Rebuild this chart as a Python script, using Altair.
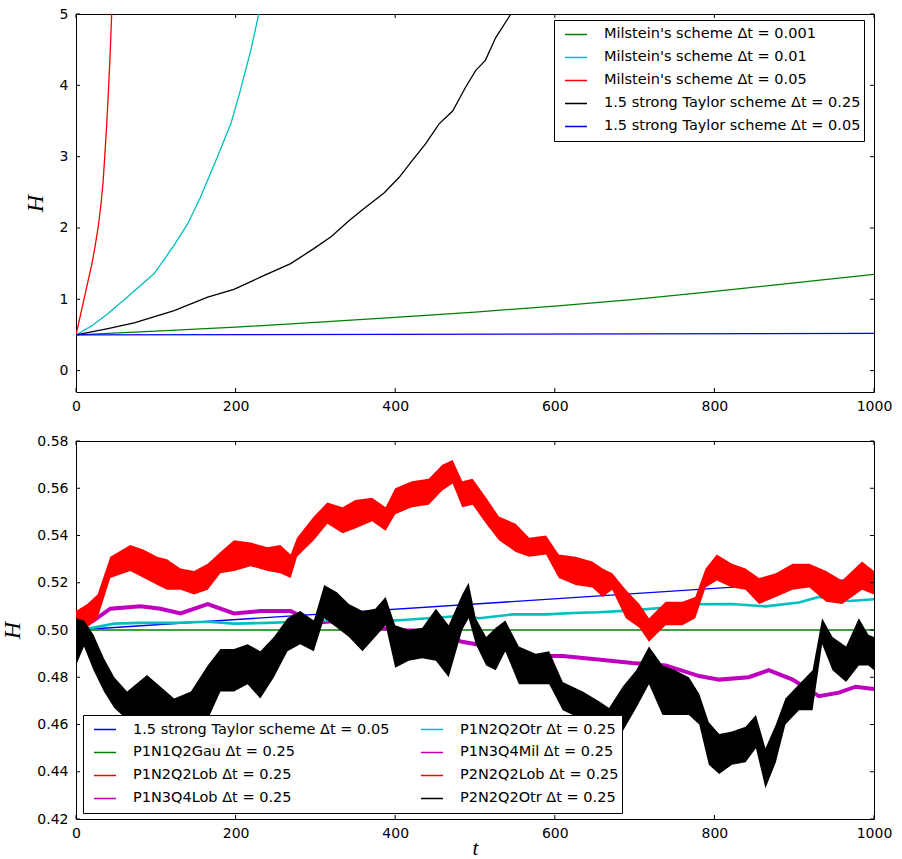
import altair as alt
import pandas as pd

# ---------------- shared axis values ----------------
x_ticks = [0, 200, 400, 600, 800, 1000]
top_y_ticks = [0, 1, 2, 3, 4, 5]
bot_y_ticks = [0.42, 0.44, 0.46, 0.48, 0.50, 0.52, 0.54, 0.56, 0.58]

# ---------------- top panel data ----------------
top_labels = [
    "Milstein's scheme Δt = 0.001",
    "Milstein's scheme Δt = 0.01",
    "Milstein's scheme Δt = 0.05",
    "1.5 strong Taylor scheme Δt = 0.25",
    "1.5 strong Taylor scheme Δt = 0.05",
]
top_colors = ["#008000", "#00bfbf", "#ff0000", "#000000", "#0000ff"]

t_mil_0001 = [0, 100, 200, 300, 400, 500, 600, 700, 800, 900, 1000]
h_mil_0001 = [0.5, 0.553, 0.61, 0.675, 0.745, 0.82, 0.905, 1.0, 1.11, 1.23, 1.35]

t_mil_001 = [0, 20, 39, 64, 98, 123, 140, 156, 177, 194, 206, 219, 229, 236]
h_mil_001 = [0.5, 0.63, 0.79, 1.03, 1.36, 1.76, 2.06, 2.43, 2.99, 3.46, 3.93, 4.49, 5.0, 5.4]

t_mil_005 = [0, 3, 6, 10, 15, 20, 24, 27.6, 31, 34, 36, 38.5, 41, 43, 44.7, 47]
h_mil_005 = [0.5, 0.65, 0.8, 1.0, 1.25, 1.5, 1.75, 2.0, 2.3, 2.65, 3.0, 3.45, 4.0, 4.5, 5.0, 5.6]

t_tay_025 = [0, 40, 73, 123, 165, 198, 231, 269, 298, 320, 342, 363, 386, 405, 421,
             438, 455, 472, 488, 501, 513, 526, 545, 555]
h_tay_025 = [0.5, 0.59, 0.67, 0.84, 1.03, 1.14, 1.31, 1.50, 1.71, 1.88, 2.10, 2.29, 2.49,
             2.71, 2.94, 3.18, 3.46, 3.64, 3.97, 4.21, 4.35, 4.67, 5.0, 5.2]

t_tay_005 = [0, 1000]
h_tay_005 = [0.500, 0.522]

# ---------------- bottom panel data ----------------
bot_labels = {
    "tay": "1.5 strong Taylor scheme Δt = 0.05",
    "gau": "P1N1Q2Gau Δt = 0.25",
    "lob1": "P1N2Q2Lob Δt = 0.25",
    "lob3": "P1N3Q4Lob Δt = 0.25",
    "otr1": "P1N2Q2Otr Δt = 0.25",
    "mil3": "P1N3Q4Mil Δt = 0.25",
    "lob2": "P2N2Q2Lob Δt = 0.25",
    "otr2": "P2N2Q2Otr Δt = 0.25",
}
bot_legend_keys = ["tay", "gau", "lob1", "lob3", "otr1", "mil3", "lob2", "otr2"]
bot_legend_colors = ["#0000ff", "#008000", "#ff0000", "#bf00bf", "#00bfbf", "#bf00bf", "#ff0000", "#000000"]

t_gau = [0, 1000]
h_gau = [0.500, 0.500]

t_tay_b = [0, 1000]
h_tay_b = [0.500, 0.522]

t_otr1 = [0, 22, 48, 81, 123, 165, 198, 240, 269, 317, 400, 442, 484, 505, 547, 589, 630,
          655, 697, 739, 781, 822, 864, 906, 931, 969, 1000]
h_otr1 = [0.500, 0.501, 0.5027, 0.503, 0.503, 0.5035, 0.5027, 0.503, 0.5034, 0.504, 0.504,
          0.505, 0.506, 0.505, 0.5066, 0.5066, 0.5073, 0.5075, 0.5083, 0.5095, 0.5109, 0.511,
          0.510, 0.5116, 0.514, 0.5123, 0.513]

t_mil3 = [0, 22, 43, 81, 106, 131, 165, 198, 231, 269, 298, 332, 359, 400, 442, 484, 526,
          568, 610, 651, 697, 739, 781, 806, 843, 868, 898, 931, 956, 977, 1000]
h_mil3 = [0.500, 0.504, 0.509, 0.510, 0.509, 0.507, 0.511, 0.507, 0.508, 0.508, 0.503, 0.504,
          0.502, 0.500, 0.4996, 0.495, 0.4925, 0.489, 0.489, 0.4876, 0.486, 0.485, 0.4805,
          0.479, 0.480, 0.483, 0.479, 0.472, 0.4735, 0.476, 0.475]

# red (Lobatto) oscillating band: upper / lower envelope
t_lob = [0, 14, 27, 43, 68, 85, 102, 114, 131, 148, 165, 181, 198, 219, 240, 256, 269, 277,
         298, 315, 334, 350, 371, 388, 400, 421, 442, 459, 472, 484, 497, 514, 530, 551, 568,
         589, 605, 626, 647, 660, 672, 689, 706, 718, 739, 760, 776, 789, 803, 822, 839, 856,
         877, 898, 919, 940, 960, 985, 1000]
lob_hi = [0.508, 0.511, 0.515, 0.531, 0.536, 0.534, 0.531, 0.530, 0.526, 0.525, 0.528, 0.533,
          0.538, 0.537, 0.535, 0.536, 0.532, 0.539, 0.548, 0.554, 0.552, 0.555, 0.556, 0.552,
          0.560, 0.563, 0.564, 0.570, 0.572, 0.563, 0.564, 0.556, 0.548, 0.545, 0.539, 0.540,
          0.532, 0.531, 0.529, 0.526, 0.524, 0.517, 0.511, 0.505, 0.512, 0.512, 0.514, 0.526,
          0.532, 0.528, 0.526, 0.522, 0.524, 0.528, 0.528, 0.525, 0.521, 0.529, 0.525]
lob_lo = [0.501, 0.501, 0.505, 0.522, 0.525, 0.522, 0.519, 0.517, 0.517, 0.515, 0.517, 0.524,
          0.525, 0.527, 0.525, 0.524, 0.522, 0.531, 0.538, 0.545, 0.541, 0.543, 0.546, 0.542,
          0.549, 0.552, 0.553, 0.559, 0.562, 0.552, 0.553, 0.545, 0.538, 0.533, 0.531, 0.532,
          0.522, 0.519, 0.518, 0.514, 0.517, 0.505, 0.501, 0.495, 0.502, 0.502, 0.505, 0.518,
          0.521, 0.518, 0.517, 0.511, 0.514, 0.517, 0.518, 0.512, 0.511, 0.517, 0.515]

# black (P2N2Q2Otr) oscillating band: upper / lower envelope
t_otr2 = [0, 10, 22, 35, 48, 64, 89, 123, 144, 165, 181, 198, 215, 231, 248, 265, 281, 298,
          311, 327, 342, 359, 375, 388, 400, 417, 434, 451, 467, 484, 492, 501, 514, 526, 538,
          555, 576, 593, 610, 635, 655, 668, 685, 702, 718, 735, 751, 768, 781, 793, 806, 822,
          839, 852, 864, 877, 889, 906, 923, 935, 948, 965, 981, 993, 1000]
otr2_hi = [0.505, 0.504, 0.498, 0.488, 0.480, 0.474, 0.481, 0.471, 0.474, 0.485, 0.492, 0.492,
           0.494, 0.491, 0.497, 0.505, 0.508, 0.504, 0.519, 0.516, 0.511, 0.508, 0.509, 0.514,
           0.502, 0.500, 0.501, 0.509, 0.502, 0.515, 0.520, 0.505, 0.497, 0.501, 0.504, 0.493,
           0.490, 0.491, 0.478, 0.474, 0.470, 0.467, 0.476, 0.483, 0.493, 0.485, 0.483, 0.480,
           0.473, 0.461, 0.456, 0.457, 0.459, 0.464, 0.450, 0.460, 0.471, 0.477, 0.483, 0.505,
           0.497, 0.493, 0.505, 0.498, 0.497]
otr2_lo = [0.485, 0.493, 0.483, 0.474, 0.467, 0.462, 0.463, 0.458, 0.458, 0.462, 0.474, 0.474,
           0.477, 0.471, 0.480, 0.491, 0.494, 0.491, 0.505, 0.501, 0.497, 0.491, 0.497, 0.502,
           0.484, 0.487, 0.488, 0.487, 0.480, 0.500, 0.505, 0.494, 0.485, 0.483, 0.491, 0.477,
           0.477, 0.477, 0.466, 0.462, 0.455, 0.457, 0.457, 0.467, 0.477, 0.464, 0.464, 0.464,
           0.460, 0.443, 0.439, 0.443, 0.444, 0.450, 0.433, 0.444, 0.460, 0.466, 0.466, 0.494,
           0.483, 0.478, 0.485, 0.485, 0.483]

# ---------------- build tables ----------------
def series_df(ts, hs, name):
    return pd.DataFrame({"t": ts, "H": hs, "series": name})

df_top = pd.concat([
    series_df(t_mil_0001, h_mil_0001, top_labels[0]),
    series_df(t_mil_001, h_mil_001, top_labels[1]),
    series_df(t_mil_005, h_mil_005, top_labels[2]),
    series_df(t_tay_025, h_tay_025, top_labels[3]),
    series_df(t_tay_005, h_tay_005, top_labels[4]),
], ignore_index=True)

df_thin = pd.concat([
    series_df(t_tay_b, h_tay_b, bot_labels["tay"]),
    series_df(t_gau, h_gau, bot_labels["gau"]),
], ignore_index=True)
df_mil3 = series_df(t_mil3, h_mil3, bot_labels["mil3"])
df_otr1 = series_df(t_otr1, h_otr1, bot_labels["otr1"])

df_lob = pd.DataFrame({"t": t_lob, "H": lob_hi, "lo": lob_lo})
df_otr2 = pd.DataFrame({"t": t_otr2, "H": otr2_hi, "lo": otr2_lo})

# ---------------- styling ----------------
W, HT = 798, 378
FONT = "DejaVu Sans"
xscale = alt.Scale(domain=[0, 1000], nice=False, zero=False)
top_yscale = alt.Scale(domain=[-0.3, 5], nice=False, zero=False)
bot_yscale = alt.Scale(domain=[0.42, 0.58], nice=False, zero=False)


def x_axis(title=None):
    kw = dict(values=x_ticks, format="d", ticks=False, domain=False, grid=False,
              labelPadding=7, labelFlush=False, labelOverlap=False)
    if title:
        kw.update(title=title, titleFont="Liberation Serif", titleFontStyle="italic",
                  titleFontSize=21, titleFontWeight="normal", titleColor="black",
                  titleBaseline="alphabetic", titlePadding=14)
    else:
        kw.update(title="")
    return alt.Axis(**kw)


def y_axis(values, fmt):
    return alt.Axis(values=values, format=fmt, ticks=False, domain=False, grid=False,
                    labelPadding=8, labelOverlap=False, title="H",
                    titleFont="Liberation Serif", titleFontStyle="italic",
                    titleFontSize=24, titleFontWeight="normal", titleColor="black",
                    titlePadding=12)


def legend(x, y, columns=1):
    kw = dict(orient="none", legendX=x, legendY=y, title=None, symbolType="stroke",
              symbolSize=484, symbolStrokeWidth=1.5, symbolOffset=7,
              labelFont=FONT, labelFontSize=14.5,
              labelColor="black", labelLimit=600, labelOffset=16, strokeColor="black",
              fillColor="white", padding=3, rowPadding=0, clipHeight=22.8, cornerRadius=0)
    if columns > 1:
        kw.update(columns=columns, columnPadding=23)
    return alt.Legend(**kw)


def inward_ticks(yscale, yvals, xax, yax):
    ydf = pd.DataFrame({"H": yvals})
    xdf = pd.DataFrame({"t": x_ticks})
    by = alt.Chart(ydf).mark_rule(color="black", strokeWidth=1)
    bx = alt.Chart(xdf).mark_rule(color="black", strokeWidth=1)
    yenc = alt.Y("H:Q", scale=yscale, axis=yax)
    xenc = alt.X("t:Q", scale=xscale, axis=xax)
    return [
        by.encode(y=yenc, x=alt.value(0), x2=alt.value(4)),
        by.encode(y=yenc, x=alt.value(W - 4), x2=alt.value(W)),
        bx.encode(x=xenc, y=alt.value(HT - 4), y2=alt.value(HT)),
        bx.encode(x=xenc, y=alt.value(0), y2=alt.value(4)),
    ]


# ---------------- top panel ----------------
top_xax = x_axis()
top_yax = y_axis(top_y_ticks, "d")
top_lines = alt.Chart(df_top).mark_line(strokeWidth=1.3, clip=True).encode(
    x=alt.X("t:Q", scale=xscale, axis=top_xax),
    y=alt.Y("H:Q", scale=top_yscale, axis=top_yax),
    color=alt.Color("series:N", scale=alt.Scale(domain=top_labels, range=top_colors),
                    legend=legend(478, 6)),
)
top = alt.layer(top_lines, *inward_ticks(top_yscale, top_y_ticks, top_xax, top_yax)).properties(
    width=W, height=HT)

# ---------------- bottom panel ----------------
bot_xax = x_axis("t")
bot_yax = y_axis(bot_y_ticks, ".2f")
bot_domain = [bot_labels[k] for k in bot_legend_keys]
bot_color_scale = alt.Scale(domain=bot_domain, range=bot_legend_colors)
bot_legend = legend(7, 274, columns=2)


def bot_line(df, width):
    return alt.Chart(df).mark_line(strokeWidth=width, clip=True).encode(
        x=alt.X("t:Q", scale=xscale, axis=bot_xax),
        y=alt.Y("H:Q", scale=bot_yscale, axis=bot_yax),
        color=alt.Color("series:N", scale=bot_color_scale, legend=bot_legend),
    )


def bot_band(df, colour):
    return alt.Chart(df).mark_area(color=colour, clip=True, opacity=1).encode(
        x=alt.X("t:Q", scale=xscale, axis=bot_xax),
        y=alt.Y("H:Q", scale=bot_yscale, axis=bot_yax),
        y2="lo:Q",
    )


bottom = alt.layer(
    bot_line(df_thin, 1.3),
    bot_line(df_mil3, 4.0),
    bot_line(df_otr1, 2.6),
    bot_band(df_lob, "#ff0000"),
    bot_band(df_otr2, "#000000"),
    *inward_ticks(bot_yscale, bot_y_ticks, bot_xax, bot_yax),
).properties(width=W, height=HT)

chart = (
    alt.vconcat(top, bottom, spacing=19)
    .resolve_scale(color="independent", y="independent")
    .resolve_legend(color="independent")
    .properties(padding={"left": 0, "top": 6, "right": 5, "bottom": 0}, background="white")
    .configure_view(stroke="black", strokeWidth=1)
    .configure_axis(labelFont=FONT, labelFontSize=14, labelColor="black")
)

chart.save("out.html", embed_options={"renderer": "svg", "actions": False})
